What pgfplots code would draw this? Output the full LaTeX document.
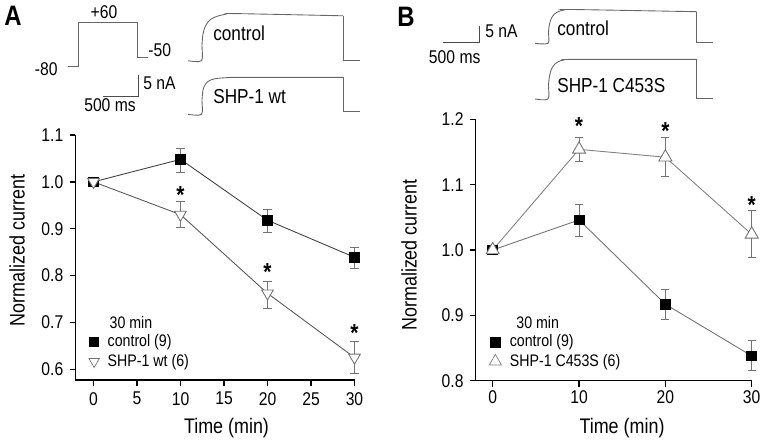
\documentclass[border=0pt]{standalone}
\usepackage{fontspec}
\setmainfont{Liberation Sans}[FakeStretch=0.85]
\usepackage{pgfplots}
\pgfplotsset{compat=1.18}

\tikzset{trace/.style={black!60, line width=0.5pt},
  star/.style={font=\bfseries\fontsize{14}{14}\selectfont}}
\pgfplotsset{
  panel/.style={scale only axis, anchor=south west, clip=false,
    axis lines=left, axis line style={-, line width=0.9pt},
    tick align=outside, major tick length=0.12cm,
    tick style={black, line width=0.8pt},
    ticklabel style={font=\fontsize{10.5}{12}\selectfont},
    /pgf/number format/assume math mode=true,
    yticklabel style={/pgf/number format/.cd, fixed, fixed zerofill, precision=1},
    legend cell align=left,
    legend style={draw=none, fill=none, font=\fontsize{9.5}{11}\selectfont,
      anchor=north west, row sep=0pt, column sep=0.15cm, inner sep=0pt,
      nodes={inner sep=0.5pt, text height=7.6pt, text depth=2.4pt}},
    error bars/error bar style={black!55, line width=0.5pt},
    error bars/error mark options={rotate=90, black!55, mark size=2.3pt, line width=0.5pt}}}

\begin{document}
\begin{tikzpicture}
% traces, protocol and scale bars, in pixels of the reference (y down)
\begin{axis}[name=ov, at={(0,0)}, anchor=south west, width=15.3cm, height=8.94cm,
  scale only axis, hide axis, xmin=0, xmax=765, ymin=0, ymax=447, y dir=reverse, clip=false]
% A: voltage protocol
\addplot[trace, no marks] coordinates {(68,66.7) (78,66.7) (78,22.7) (137,22.7) (137,57.3) (148.3,57.3)};
% A: scale bar
\addplot[trace, black!70, no marks] coordinates {(103,96) (138,96) (138,75)};
% A: control current
\addplot[trace, smooth, no marks] coordinates {(188,60.7) (201.5,60.7) (202,45) (203,34) (205,27) (208,22) (212,18.5) (218,16) (226,14.2) (236,13.6) (343,15.8)};
\addplot[trace, no marks] coordinates {(343,15.8) (343,60) (360,60)};
% A: SHP-1 wt current
\addplot[trace, smooth, no marks] coordinates {(188,114.3) (201.5,114.3) (202,100) (203,90) (205,85) (208,81.5) (212,79.5) (218,78.3) (228,77.6) (240,77.4) (343,77.4)};
\addplot[trace, no marks] coordinates {(343,77.4) (343,111.7) (360,111.7)};
% B: scale bar
\addplot[trace, black!70, no marks] coordinates {(442.7,42.7) (479.3,42.7) (479.3,26)};
% B: control current
\addplot[trace, smooth, no marks] coordinates {(535,43.3) (548,43.3) (548.5,32) (549.5,24) (551.5,18) (554.5,14) (558.5,11.5) (564,10) (572,9.5) (696.7,11.7)};
\addplot[trace, no marks] coordinates {(696.7,11.7) (696.7,42.3) (713.3,42.3)};
% B: SHP-1 C453S current
\addplot[trace, smooth, no marks] coordinates {(535,99) (548,99) (548.5,85) (549.5,76) (551.5,69) (554.5,64.5) (558.5,61.5) (564,60) (574,59.4) (696.7,59.4)};
\addplot[trace, no marks] coordinates {(696.7,59.4) (696.7,98.3) (713.3,98.3)};

\begin{scope}[every node/.style={font=\fontsize{10.5}{12}\selectfont, inner sep=0pt}]
\node at (axis cs:104,11.7) {+60};
\node[anchor=east] at (axis cs:58,69) {-80};
\node[anchor=west] at (axis cs:148,50) {-50};
\node[anchor=west] at (axis cs:143,83) {5 nA};
\node at (axis cs:110,105) {500 ms};
\node[anchor=west] at (axis cs:485,31.7) {5 nA};
\node at (axis cs:454.7,56.7) {500 ms};
\end{scope}
\begin{scope}[every node/.style={font=\fontsize{11.5}{13}\selectfont, inner sep=0pt, anchor=base west}]
\node at (axis cs:213,40) {control};
\node at (axis cs:213,103) {SHP-1 wt};
\node at (axis cs:557,35) {control};
\node at (axis cs:557,92) {SHP-1 C453S};
\end{scope}
\begin{scope}[every node/.style={font=\bfseries\fontsize{16}{17}\selectfont, inner sep=0pt}]
\node at (axis cs:13,16) {A};
\node at (axis cs:406,17) {B};
\end{scope}
\begin{scope}[every node/.style={font=\fontsize{12}{14}\selectfont, inner sep=0pt}]
\node[rotate=90] at (axis cs:17,250.5) {Normalized current};
\node at (axis cs:226.5,428) {Time (min)};
\node[rotate=90] at (axis cs:409,255) {Normalized current};
\node at (axis cs:622,428.3) {Time (min)};
\end{scope}
\end{axis}

% panel A
\begin{axis}[panel, at={(1.51cm,1.34cm)}, width=5.58cm, height=4.9cm,
  xmin=-2.07, xmax=30, ymin=0.577, ymax=1.1,
  xtick={0,5,...,30}, ytick={0.6,0.7,...,1.1},
  xticklabel style={yshift=0pt},
  legend style={at={(rel axis cs:0.047,0.195)}}]
\addlegendimage{only marks, mark=square*, mark size=2.6pt, black,
  legend image code/.code={\draw[only marks, mark=square*, mark size=2.6pt, black] plot coordinates {(0cm,0cm)};}}
\addlegendentry{control (9)}
\addlegendimage{only marks, mark=triangle*,
  legend image code/.code={\draw[only marks, mark=triangle*, mark size=3.4pt, mark options={rotate=180, fill=white, draw=black!55}] plot coordinates {(0cm,0cm)};}}
\addlegendentry{SHP-1 wt (6)}
\addplot[forget plot, black!75, line width=0.5pt, mark=square*, mark size=2.7pt,
  mark options={black, solid}, error bars/.cd, y dir=both, y explicit]
  coordinates {(0,1.0) (10,1.048) += (0,0.023) -= (0,0.027)
    (20,0.918) += (0,0.023) -= (0,0.025) (30,0.839) += (0,0.022) -= (0,0.024)};
\addplot[forget plot, black!65, line width=0.5pt, mark=triangle*, mark size=3.8pt,
  mark options={rotate=180, fill=white, draw=black!55, solid}, error bars/.cd, y dir=both, y explicit]
  coordinates {(0,1.0) (10,0.930) += (0,0.029) -= (0,0.027)
    (20,0.762) += (0,0.026) -= (0,0.032) (30,0.625) += (0,0.034) -= (0,0.034)};
\node[star] at (axis cs:10,0.972) {*};
\node[star] at (axis cs:20,0.808) {*};
\node[star] at (axis cs:30,0.678) {*};
\node[anchor=west, inner sep=0pt, font=\fontsize{9.5}{11}\selectfont] at (axis cs:1.82,0.699) {30 min};
\end{axis}

% panel B
\begin{axis}[panel, at={(9.514cm,1.326cm)}, width=5.52cm, height=5.228cm,
  xmin=-1.97, xmax=30, ymin=0.8, ymax=1.2,
  xtick={0,10,20,30}, ytick={0.8,0.9,...,1.2},
  xticklabel style={yshift=1.5pt},
  legend style={at={(rel axis cs:0.048,0.186)}}]
\addlegendimage{only marks, mark=square*,
  legend image code/.code={\draw[only marks, mark=square*, mark size=2.8pt, black] plot coordinates {(0cm,0cm)};}}
\addlegendentry{control (9)}
\addlegendimage{only marks, mark=triangle*,
  legend image code/.code={\draw[only marks, mark=triangle*, mark size=4pt, mark options={fill=white, draw=black!50}] plot coordinates {(0cm,0cm)};}}
\addlegendentry{SHP-1 C453S (6)}
\addplot[forget plot, black!55, line width=0.5pt, mark=square*, mark size=2.8pt,
  mark options={black, solid}, error bars/.cd, y dir=both, y explicit]
  coordinates {(0,1.0) (10,1.046) += (0,0.024) -= (0,0.025)
    (20,0.917) += (0,0.023) -= (0,0.023) (30,0.838) += (0,0.023) -= (0,0.023)};
\addplot[forget plot, black!50, line width=0.5pt, mark=triangle*, mark size=4.3pt,
  mark options={fill=white, draw=black!55, solid}, error bars/.cd, y dir=both, y explicit]
  coordinates {(0,1.0) (10,1.154) += (0,0.019) -= (0,0.019)
    (20,1.142) += (0,0.031) -= (0,0.029) (30,1.024) += (0,0.037) -= (0,0.035)};
\node[star] at (axis cs:10,1.190) {*};
\node[star] at (axis cs:20,1.182) {*};
\node[star] at (axis cs:30,1.069) {*};
\node[anchor=west, inner sep=0pt, font=\fontsize{9.5}{11}\selectfont] at (axis cs:2.70,0.889) {30 min};
\end{axis}
\pgfresetboundingbox
\useasboundingbox (0,0) rectangle (15.3cm,8.94cm);
\end{tikzpicture}
\end{document}
